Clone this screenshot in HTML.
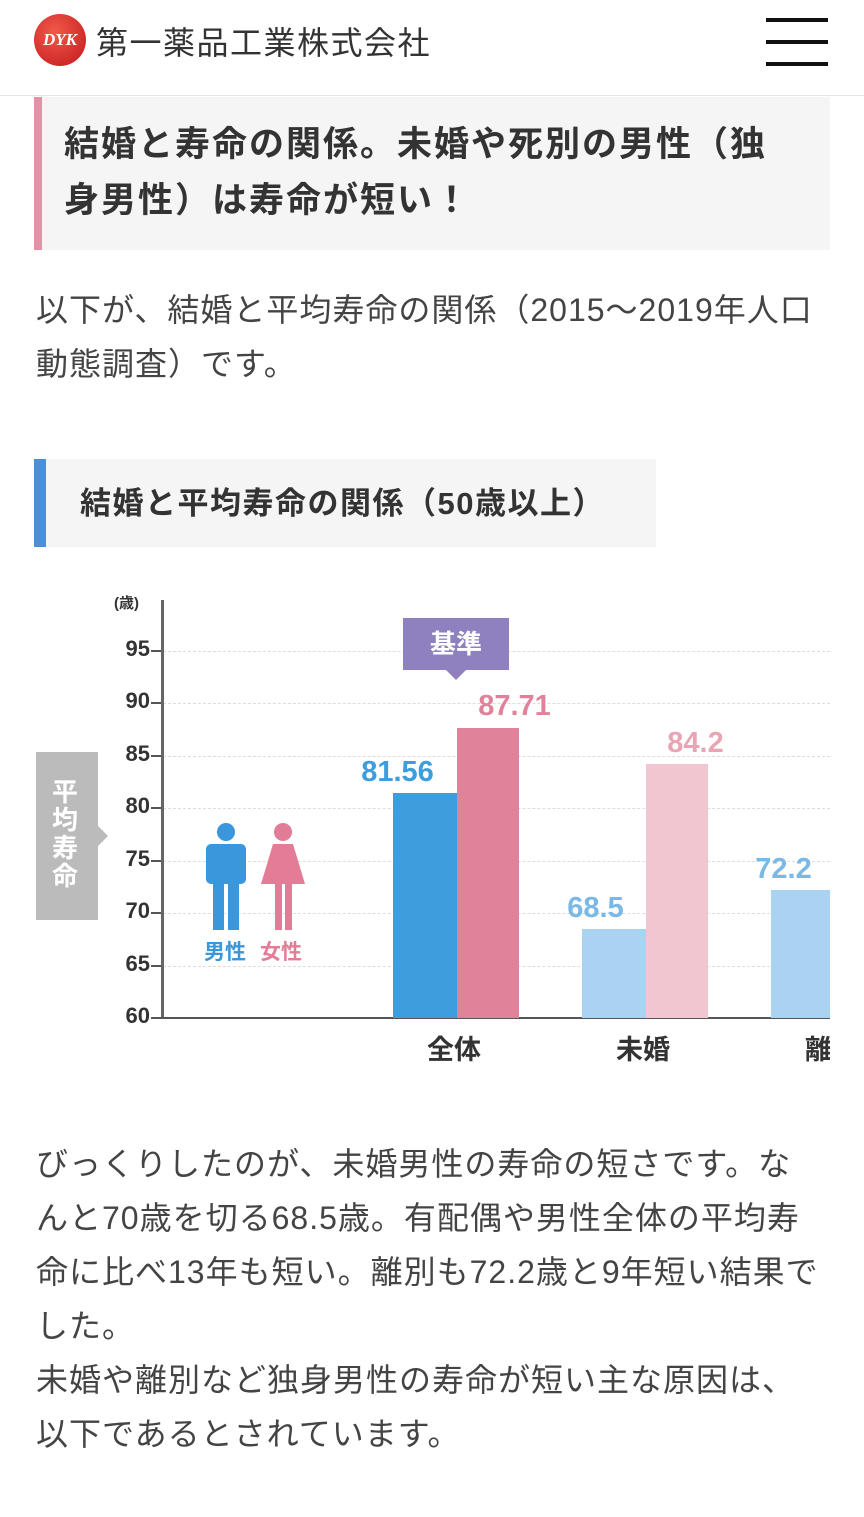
<!DOCTYPE html>
<html><head><meta charset="utf-8"><style>
*{margin:0;padding:0;box-sizing:border-box}
body{width:864px;height:1517px;background:#fff;position:relative;overflow:hidden;font-family:"Liberation Sans","Noto Sans CJK JP",sans-serif;color:#333}
.a{position:absolute}
.p{font-size:32px;line-height:54px;color:#444;left:36px;width:830px;white-space:nowrap;letter-spacing:1px}
.t{font-weight:bold}
.n{position:absolute;font-weight:bold;font-size:29px;text-align:center}
.tk{position:absolute;left:110px;width:40px;text-align:right;font-weight:bold;font-size:22px;color:#333}
.gl{position:absolute;left:163px;width:667px;border-top:1px dashed #ddd}
</style></head><body>
<div class="a" style="left:0;top:95px;width:864px;height:1px;background:#e5e5e5"></div>
<div class="a" style="left:34px;top:14px;width:52px;height:52px;border-radius:50%;background:radial-gradient(circle at 40% 35%,#f05a4a,#c4161c);color:#fff;font:italic bold 17px 'Liberation Serif',serif;text-align:center;line-height:52px">DYK</div>
<div class="a" style="left:96px;top:18px;font-size:32px;color:#333;letter-spacing:1.5px">第一薬品工業株式会社</div>
<div class="a" style="left:766px;top:18px;width:62px;height:4px;background:#111"></div>
<div class="a" style="left:766px;top:40px;width:62px;height:4px;background:#111"></div>
<div class="a" style="left:766px;top:62px;width:62px;height:4px;background:#111"></div>

<div class="a" style="left:34px;top:97px;width:796px;height:153px;background:#f5f5f5;border-left:8px solid #e88fa8"></div>
<div class="a t" style="left:64px;top:117px;width:780px;font-size:35px;line-height:56px;color:#333;white-space:nowrap;letter-spacing:2px">結婚と寿命の関係。未婚や死別の男性（独<br>身男性）は寿命が短い！</div>
<div class="a p" style="top:283px">以下が、結婚と平均寿命の関係（2015～2019年人口<br>動態調査）です。</div>

<div class="a" style="left:34px;top:459px;width:622px;height:88px;background:#f5f5f5;border-left:12px solid #4a90d9"></div>
<div class="a t" style="left:80px;top:478px;font-size:31px;letter-spacing:1.5px">結婚と平均寿命の関係（50歳以上）</div>

<!-- chart -->
<div class="a" style="left:114px;top:592px;font-size:15px;font-weight:bold">(歳)</div>
<div class="gl" style="top:651px"></div><div class="gl" style="top:703px"></div><div class="gl" style="top:756px"></div><div class="gl" style="top:808px"></div><div class="gl" style="top:861px"></div><div class="gl" style="top:913px"></div><div class="gl" style="top:966px"></div>
<div class="tk" style="top:636px">95</div><div class="tk" style="top:688px">90</div><div class="tk" style="top:741px">85</div><div class="tk" style="top:793px">80</div><div class="tk" style="top:846px">75</div><div class="tk" style="top:898px">70</div><div class="tk" style="top:951px">65</div><div class="tk" style="top:1003px">60</div>
<div class="a" style="left:151px;top:650px;width:10px;height:2px;background:#555"></div>
<div class="a" style="left:151px;top:702px;width:10px;height:2px;background:#555"></div>
<div class="a" style="left:151px;top:755px;width:10px;height:2px;background:#555"></div>
<div class="a" style="left:151px;top:807px;width:10px;height:2px;background:#555"></div>
<div class="a" style="left:151px;top:860px;width:10px;height:2px;background:#555"></div>
<div class="a" style="left:151px;top:912px;width:10px;height:2px;background:#555"></div>
<div class="a" style="left:151px;top:965px;width:10px;height:2px;background:#555"></div>
<div class="a" style="left:161px;top:600px;width:3px;height:419px;background:#666"></div>
<div class="a" style="left:151px;top:1017px;width:679px;height:2px;background:#555"></div>

<div class="a" style="left:36px;top:752px;width:62px;height:168px;background:#bbb"></div>
<div class="a" style="left:98px;top:826px;width:0;height:0;border-top:10px solid transparent;border-bottom:10px solid transparent;border-left:10px solid #bbb"></div>
<div class="a" style="left:52px;top:778px;width:30px;font-size:26px;line-height:28px;color:#fff;font-weight:bold">平均寿命</div>

<svg class="a" style="left:200px;top:820px" width="110" height="115">
<g fill="#3a97db"><circle cx="26" cy="12" r="9"/><rect x="6" y="24" width="40" height="40" rx="5"/><rect x="13" y="55" width="11" height="55"/><rect x="28" y="55" width="11" height="55"/></g>
<g fill="#e37d97"><circle cx="83" cy="12" r="9"/><path d="M73 24h20l12 40h-44z"/><rect x="75" y="60" width="7" height="50"/><rect x="85" y="60" width="7" height="50"/></g>
</svg>
<div class="a t" style="left:204px;top:936px;font-size:21px;color:#3a97db">男性</div>
<div class="a t" style="left:260px;top:936px;font-size:21px;color:#e37d97">女性</div>

<div class="a" style="left:393px;top:793px;width:64px;height:225px;background:#3d9ddd"></div>
<div class="a" style="left:457px;top:728px;width:62px;height:290px;background:#e0839a"></div>
<div class="a" style="left:582px;top:929px;width:64px;height:89px;background:#a9d3f1"></div>
<div class="a" style="left:646px;top:764px;width:62px;height:254px;background:#f1c6d0"></div>
<div class="a" style="left:771px;top:890px;width:59px;height:128px;background:#a9d3f1"></div>
<div class="n" style="left:350px;top:756px;width:95px;color:#3d9ddd">81.56</div>
<div class="n" style="left:467px;top:690px;width:95px;color:#e0839a">87.71</div>
<div class="n" style="left:548px;top:892px;width:95px;color:#7ab8e6">68.5</div>
<div class="n" style="left:648px;top:727px;width:95px;color:#eaa5b5">84.2</div>
<div class="n" style="left:736px;top:853px;width:95px;color:#7ab8e6">72.2</div>
<div class="a" style="left:403px;top:618px;width:106px;height:52px;background:#8f80c0;color:#fff;font-weight:bold;font-size:26px;text-align:center;line-height:52px">基準</div>
<div class="a" style="left:446px;top:670px;border-left:10px solid transparent;border-right:10px solid transparent;border-top:10px solid #8f80c0"></div>
<div class="a t" style="left:427px;top:1028px;font-size:27px">全体</div>
<div class="a t" style="left:616px;top:1028px;font-size:27px">未婚</div>
<div class="a t" style="left:805px;top:1028px;font-size:27px;width:25px;overflow:hidden;white-space:nowrap">離別</div>

<div class="a p" style="top:1137px">びっくりしたのが、未婚男性の寿命の短さです。な<br>んと70歳を切る68.5歳。有配偶や男性全体の平均寿<br>命に比べ13年も短い。離別も72.2歳と9年短い結果で<br>した。<br>未婚や離別など独身男性の寿命が短い主な原因は、<br>以下であるとされています。</div>
</body></html>
